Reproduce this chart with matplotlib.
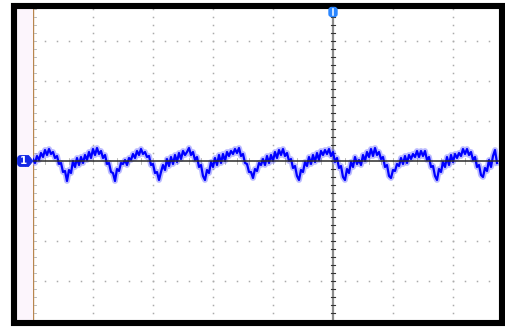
import numpy as np
import matplotlib
matplotlib.use("Agg")
import matplotlib.pyplot as plt
from matplotlib.patches import Rectangle, Polygon, FancyBboxPatch

# trace samples, one every 1/30 division, level in 1/40 division units (up = positive)
trace = [2, -2, 5, 1, 8, 4, 11, 6, 12, 7, 9, 3, 5, -3, -2, -11, -10,
         -20, -9, -12, 0, -6, 3, -4, 4, -2, 6, 1, 9, 3, 12, 6, 13, 7, 10, 3, 6, -3, -2, -11, -12,
         -20, -8, -10, -2, -3, 1, -4, 3, 1, 7, 3, 10, 6, 12, 7, 9, 4, 5, -4, -3, -12, -11,
         -19, -11, -4, -9, 2, -5, 4, -3, 6, -1, 8, 2, 10, 6, 9, 13, 6, 9, 1, 4, -6, -4, -15,
         -19, -9, -12, -1, -6, 3, -4, 6, -2, 7, 0, 9, 5, 10, 7, 12, 8, 13, 5, 7, -2, -3, -11, -11,
         -17, -8, -10, -2, -4, 2, -4, 5, -2, 6, 0, 9, 3, 11, 6, 12, 5, 8, 0, 2, -7, -5, -15,
         -19, -9, -11, -1, -5, 4, -3, 6, -1, 8, 1, 10, 6, 11, 7, 12, 5, 9, -1, 3, -7, -5, -16,
         -19, -8, -12, -1, -6, 4, -3, 1, -4, 6, 0, 9, 4, 12, 5, 13, 6, 9, 2, 4, -6, -4, -15,
         -17, -9, -10, -3, -5, 3, -3, 5, -2, 6, 2, 7, 4, 10, 4, 10, 5, 10, 1, 4, -6, -5, -15,
         -19, -8, -11, -1, -6, 4, -4, 6, -1, 7, 3, 8, 5, 12, 7, 12, 6, 9, 1, 4, -6, -4, -14,
         -16, -7, -10, 1, -6, 5, 11, -2]
UNITS_PER_DIV = 40
SAMPLE_DIV = 1 / 30
t_start = -5.0          # divisions from screen centre

W, H = 506, 328
fig = plt.figure(figsize=(W / 100, H / 100), dpi=100)
fig.patch.set_facecolor('white')

# left strip behind everything
bg = fig.add_axes([0, 0, 1, 1])
bg.set_xlim(0, W)
bg.set_ylim(H, 0)
bg.axis('off')
bg.add_patch(Rectangle((17, 9), 16, 311, facecolor='#fcf5fc', edgecolor='none'))

ax = fig.add_axes([33 / W, 8 / H, 466 / W, 311 / H])
ax.set_xlim(-5, 466 / 60 - 5)
ax.set_ylim(-159 / 40, 152 / 40)
ax.patch.set_alpha(0)
for s in ax.spines.values():
    s.set_visible(False)
ax.set_xticks([])
ax.set_yticks([])

grid_c = '#ababab'
minor_y = np.arange(-4, 4.01, 0.2)
minor_x = np.arange(-5, 3.01, 0.2)
for gx in range(-4, 3):
    if gx == 0:
        continue
    ax.plot(np.full(len(minor_y), gx), minor_y, ls='none', marker='s', ms=1.1,
            mfc=grid_c, mec='none')
for gy in range(-4, 4):
    if gy == 0:
        continue
    ax.plot(minor_x, np.full(len(minor_x), gy), ls='none', marker='s', ms=1.1,
            mfc=grid_c, mec='none')

# left axis line and its ticks
ax.axvline(-4.995, color='#b8864f', lw=1.0)
for yy in minor_y:
    ax.plot([-4.99, -4.95], [yy, yy], color='#b0b0b0', lw=0.6)

# centre vertical line
ax.axvline(0, color='#8c8c8c', lw=1.6, zorder=2)
for yy in minor_y:
    ax.plot([-0.04, 0.04], [yy, yy], color='#333333', lw=0.8, zorder=2)

# centre horizontal ticks
for xx in minor_x:
    ax.plot([xx, xx], [-0.07, 0.07], color='#b0b0b0', lw=0.6, zorder=2)

# trace
t = t_start + np.arange(len(trace)) * SAMPLE_DIV
y = np.array(trace) / UNITS_PER_DIV
ax.plot(t, y, color='#6a6aff', lw=4.2, alpha=0.45, zorder=3)
ax.plot(t, y, color='#0000ff', lw=1.6, zorder=4)

# centre horizontal line on top of trace
ax.axhline(0, color='#2a2a2a', lw=1.1, zorder=5)

# overlay: frame and markers
ov = fig.add_axes([0, 0, 1, 1], zorder=10)
ov.set_xlim(0, W)
ov.set_ylim(H, 0)
ov.axis('off')
ov.patch.set_alpha(0)
ov.add_patch(Rectangle((14, 6), 488, 316.5, fill=False, edgecolor='black',
                       lw=4.4, joinstyle='miter'))

# channel 1 marker
ov.add_patch(FancyBboxPatch((17.5, 155.5), 9.5, 11, boxstyle='round,pad=0,rounding_size=3.5',
                            facecolor='#1428e6', edgecolor='#1428e6', lw=0.6))
ov.add_patch(Polygon([(25, 155.5), (28.5, 155.5), (33, 161), (28.5, 166.5), (25, 166.5)],
                     closed=True, facecolor='#1428e6', edgecolor='#1428e6', lw=0.6))
ov.text(23.5, 161.5, '1', color='white', fontsize=7.5, fontweight='bold',
        ha='center', va='center')

# trigger marker
ov.add_patch(FancyBboxPatch((329.5, 8), 7, 8, boxstyle='round,pad=0.5,rounding_size=2.5',
                            facecolor='#2a86ff', edgecolor='#2a86ff'))
ov.plot([333, 333], [9, 15], color='white', lw=1.1)

fig.savefig('out.png', dpi=100)
